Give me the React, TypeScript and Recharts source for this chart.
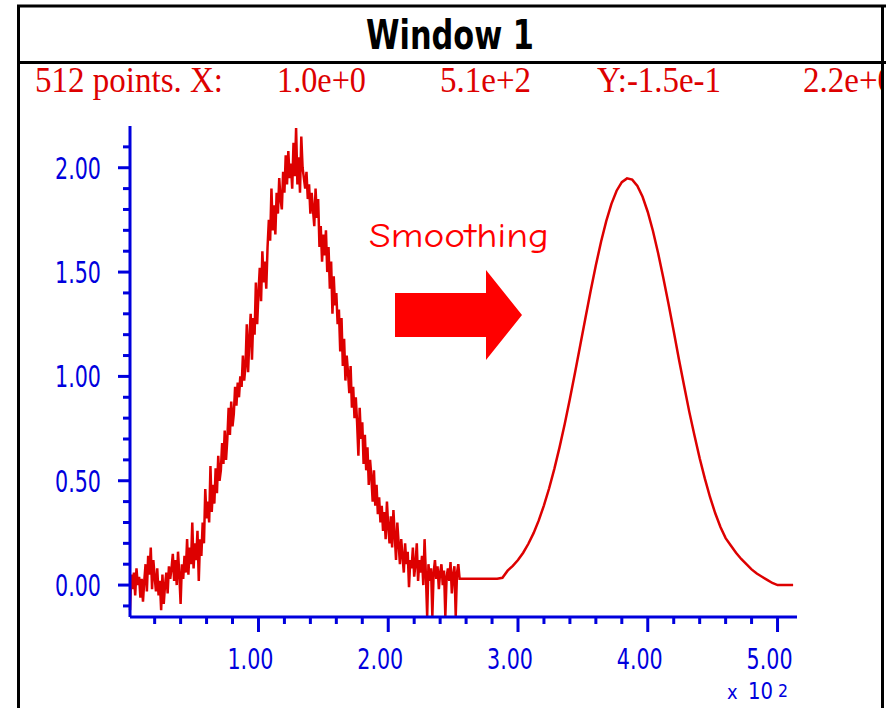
import React from 'react';
import { LineChart, Line, XAxis, YAxis } from 'recharts';

// Noisy raw signal, x = 1..256
const rawSignal = [
  -0.12, 0.05, -0.02, 0.06, -0.05, 0.08, 0.0, 0.04, -0.06, 0.03, -0.08, 0.02, 0.1, -0.03, 0.14, 0.05,
  0.18, -0.02, 0.12, 0.04, -0.03, 0.08, -0.05, 0.02, -0.12, 0.05, -0.09, 0.0, 0.06, -0.04, 0.09, 0.03,
  0.08, 0.15, 0.02, 0.12, 0.0, 0.16, 0.05, -0.09, 0.1, 0.03, 0.14, 0.06, 0.22, 0.05, 0.18, 0.1,
  0.3, 0.08, 0.2, 0.12, 0.26, 0.02, 0.22, 0.14, 0.3, 0.2, 0.46, 0.32, 0.4, 0.3, 0.57, 0.35,
  0.48, 0.39, 0.56, 0.44, 0.62, 0.5, 0.55, 0.68, 0.58, 0.74, 0.6, 0.7, 0.85, 0.72, 0.88, 0.76,
  0.82, 0.95, 0.86, 0.97, 0.9, 1.0, 0.95, 1.1, 0.98, 1.05, 1.25, 1.02, 1.18, 1.3, 1.08, 1.28,
  1.2, 1.45, 1.25, 1.4, 1.52, 1.36, 1.6, 1.45, 1.55, 1.42, 1.62, 1.75, 1.65, 1.9, 1.7, 1.82,
  1.68, 1.88, 1.78, 1.95, 1.85, 1.8, 1.98, 1.88, 2.06, 1.92, 2.08, 1.95, 2.02, 1.9, 2.12, 1.96,
  2.19, 1.92, 2.05, 1.88, 2.15, 2.0, 1.95, 1.9, 1.98, 1.85, 1.92, 1.78, 1.88, 1.8, 1.72, 1.9,
  1.76, 1.85, 1.62, 1.72, 1.55, 1.68, 1.58, 1.7, 1.5, 1.62, 1.42, 1.55, 1.3, 1.48, 1.34, 1.4,
  1.25, 1.32, 1.12, 1.28, 1.05, 1.18, 0.98, 1.1, 1.02, 0.92, 1.05, 0.85, 0.95, 0.8, 0.9, 0.78,
  0.62, 0.85, 0.7, 0.78, 0.58, 0.72, 0.55, 0.66, 0.48, 0.6, 0.52, 0.4, 0.55, 0.38, 0.48, 0.34,
  0.42, 0.3, 0.38, 0.26, 0.35, 0.22, 0.4, 0.28, 0.2, 0.33, 0.18, 0.36, 0.24, 0.12, 0.3, 0.2,
  0.1, 0.22, 0.14, 0.06, 0.2, 0.1, 0.16, -0.01, 0.12, 0.08, 0.18, 0.04, 0.1, 0.2, 0.02, 0.12,
  0.06, 0.14, 0.0, 0.22, 0.05, -0.15, 0.1, 0.02, 0.08, -0.15, 0.06, 0.12, 0.03, 0.09, -0.02, 0.06,
  0.1, 0.0, 0.07, -0.15, 0.04, 0.08, 0.02, 0.11, -0.04, 0.05, 0.09, -0.15, 0.06, 0.1, 0.03, 0.03,
];

// Smoothed signal, sampled at x = 260, 264, ..., 512
const smoothSignal = [
  0.03, 0.03, 0.03, 0.03, 0.03, 0.03, 0.03, 0.035,
  0.069, 0.092, 0.12, 0.155, 0.198, 0.249, 0.31, 0.382,
  0.464, 0.557, 0.66, 0.772, 0.893, 1.02, 1.15, 1.281,
  1.41, 1.533, 1.645, 1.744, 1.827, 1.89, 1.931, 1.949,
  1.943, 1.913, 1.861, 1.788, 1.697, 1.59, 1.472, 1.347,
  1.216, 1.082, 0.955, 0.83, 0.717, 0.608, 0.51, 0.421,
  0.344, 0.278, 0.225, 0.19, 0.155, 0.125, 0.1, 0.075,
  0.055, 0.04, 0.025, 0.01, 0.0, 0.0, 0.0, 0.0,
];
const smoothStartX = 260;
const smoothStepX = 4;

const xTicks = [20, 40, 60, 80, 100, 120, 140, 160, 180, 200, 220, 240, 260, 280, 300, 320, 340, 360, 380, 400, 420, 440, 460, 480, 500];
const yTicks = [-0.1, 0, 0.1, 0.2, 0.3, 0.4, 0.5, 0.6, 0.7, 0.8, 0.9, 1.0, 1.1, 1.2, 1.3, 1.4, 1.5, 1.6, 1.7, 1.8, 1.9, 2.0, 2.1];

const titleText = 'Window 1';
const headerItems = ['512 points. X:', '1.0e+0', '5.1e+2', 'Y:-1.5e-1', '2.2e+0'];
const annotationText = 'Smoothing';

const RED = '#dd0000';
const BLUE = '#0000dd';
const TICK_FONT = "'Liberation Sans Narrow', 'DejaVu Sans Condensed', 'DejaVu Sans', sans-serif";

const data = [
  ...rawSignal.map((v, i) => ({ x: i + 1, y: v })),
  ...smoothSignal.map((v, i) => ({ x: smoothStartX + smoothStepX * i, y: v })),
];

const YTick = (props: any) => {
  const { x, y, payload } = props;
  const v = payload.value as number;
  const major = Math.abs(v * 2 - Math.round(v * 2)) < 1e-6;
  return (
    <g>
      <line x1={x - (major ? 12 : 7)} x2={x} y1={y} y2={y} stroke={BLUE} strokeWidth={3} />
      {major && (
        <text
          x={x - 29}
          y={y + 11}
          textAnchor="end"
          fill={BLUE}
          fontFamily={TICK_FONT}
          fontSize={30}
          textLength={46}
          lengthAdjust="spacingAndGlyphs"
        >
          {v.toFixed(2)}
        </text>
      )}
    </g>
  );
};

const XTick = (props: any) => {
  const { x, y, payload } = props;
  const v = payload.value as number;
  const major = v % 100 === 0;
  return (
    <g>
      <line x1={x} x2={x} y1={y} y2={y + (major ? 15 : 7)} stroke={BLUE} strokeWidth={3} />
      {major && (
        <text
          x={x - 8}
          y={y + 52}
          textAnchor="middle"
          fill={BLUE}
          fontFamily={TICK_FONT}
          fontSize={29}
          textLength={46}
          lengthAdjust="spacingAndGlyphs"
        >
          {(v / 100).toFixed(2)}
        </text>
      )}
    </g>
  );
};

const headerPos = [
  { x: 35, w: 188 },
  { x: 277, w: 89 },
  { x: 440, w: 91 },
  { x: 597, w: 124 },
  { x: 803, w: 91 },
];

export default function App() {
  return (
    <div style={{ position: 'absolute', left: 0, top: 0, width: 889, height: 708, background: '#fff', overflow: 'hidden' }}>
      <div style={{ position: 'absolute', left: 0, top: 0 }}>
        <LineChart width={889} height={708} data={data} margin={{ top: 126, right: 92, bottom: 41, left: 100 }}>
          <XAxis
            dataKey="x"
            type="number"
            domain={[1, 515]}
            ticks={xTicks}
            interval={0}
            height={50}
            tickSize={0}
            tickMargin={0}
            tickLine={false}
            axisLine={{ stroke: BLUE, strokeWidth: 3 }}
            tick={<XTick />}
          />
          <YAxis
            type="number"
            domain={[-0.153, 2.2]}
            ticks={yTicks}
            interval={0}
            width={30}
            tickSize={0}
            tickMargin={0}
            tickLine={false}
            axisLine={{ stroke: BLUE, strokeWidth: 3 }}
            tick={<YTick />}
            allowDataOverflow
          />
          <Line
            type="linear"
            dataKey="y"
            stroke={RED}
            strokeWidth={2.5}
            dot={false}
            activeDot={false}
            isAnimationActive={false}
          />
        </LineChart>
      </div>
      <svg
        width={889}
        height={708}
        style={{ position: 'absolute', left: 0, top: 0, pointerEvents: 'none' }}
      >
        <defs>
          <clipPath id="hdrclip">
            <rect x={0} y={0} width={881} height={120} />
          </clipPath>
        </defs>
        {/* frame */}
        <line x1={17} x2={886} y1={6} y2={6} stroke="#000" strokeWidth={3} />
        <line x1={18.5} x2={18.5} y1={5} y2={708} stroke="#000" strokeWidth={3} />
        <line x1={882.5} x2={882.5} y1={5} y2={708} stroke="#000" strokeWidth={3} />
        <line x1={17} x2={886} y1={62.5} y2={62.5} stroke="#000" strokeWidth={3} />
        {/* title */}
        <text
          x={366}
          y={49}
          fill="#000"
          fontFamily="'DejaVu Sans', sans-serif"
          fontWeight="bold"
          fontSize={40}
          textLength={168}
          lengthAdjust="spacingAndGlyphs"
        >
          {titleText}
        </text>
        {/* header */}
        <g clipPath="url(#hdrclip)">
          {headerItems.map((t, i) => (
            <text
              key={i}
              x={headerPos[i].x}
              y={92}
              fill={RED}
              fontFamily="'Liberation Serif', serif"
              fontSize={36}
              textLength={headerPos[i].w}
              lengthAdjust="spacingAndGlyphs"
            >
              {t}
            </text>
          ))}
        </g>
        {/* annotation */}
        <text
          x={369}
          y={247}
          fill="#ff0000"
          fontFamily="'Comic Sans MS', 'Comic Neue', 'Noto Sans', sans-serif"
          fontSize={34}
          textLength={180}
          lengthAdjust="spacingAndGlyphs"
        >
          {annotationText}
        </text>
        <polygon points="395,293 486,293 486,270 522,315 486,360 486,337 395,337" fill="#ff0000" />
        {/* axis multiplier */}
        <text x={727} y={699} fill={BLUE} fontFamily={TICK_FONT} fontSize={20}>x</text>
        <text x={748} y={699} fill={BLUE} fontFamily={TICK_FONT} fontSize={23} textLength={25} lengthAdjust="spacingAndGlyphs">10</text>
        <text x={778} y={697} fill={BLUE} fontFamily={TICK_FONT} fontSize={17} textLength={10} lengthAdjust="spacingAndGlyphs">2</text>
      </svg>
    </div>
  );
}
